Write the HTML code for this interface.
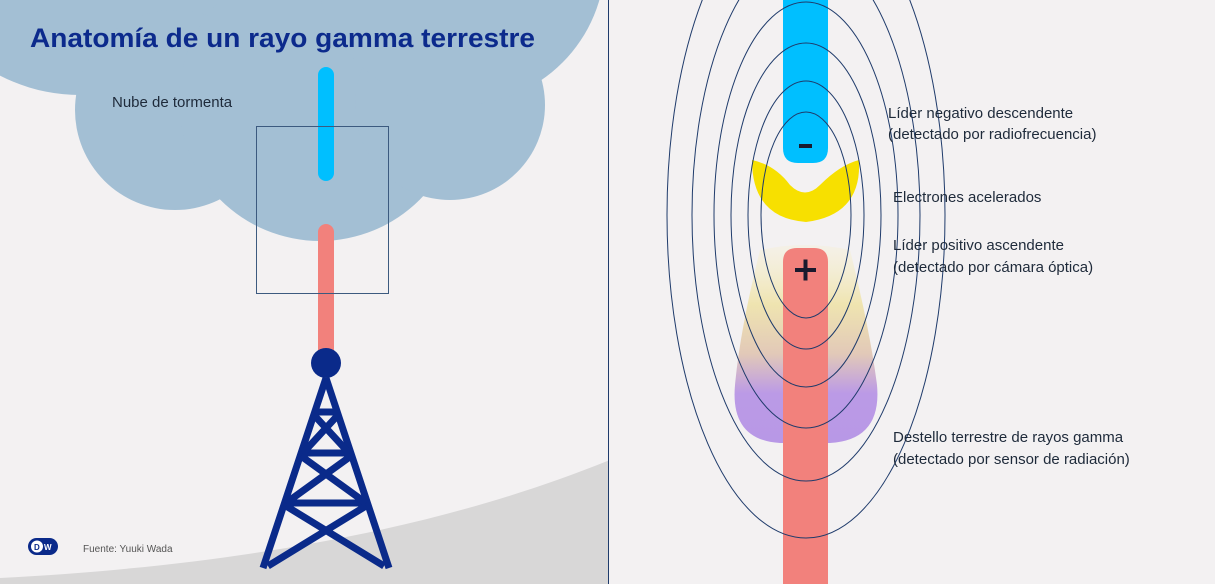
<!DOCTYPE html>
<html><head><meta charset="utf-8"><style>
html,body{margin:0;padding:0;background:#f3f1f2;}
svg{display:block;font-family:"Liberation Sans",sans-serif;}
</style></head><body>
<svg width="1215" height="584" viewBox="0 0 1215 584" xmlns="http://www.w3.org/2000/svg">
<defs>
<linearGradient id="fl" x1="0" y1="0" x2="0" y2="1">
<stop offset="0" stop-color="#f6efcf" stop-opacity="0.3"/>
<stop offset="0.3" stop-color="#efe4b0"/>
<stop offset="0.55" stop-color="#e2c9b8"/>
<stop offset="0.75" stop-color="#bb9ae6"/>
<stop offset="1" stop-color="#b898e6"/>
</linearGradient>
<clipPath id="lc"><rect x="0" y="0" width="608" height="584"/></clipPath>
</defs>
<rect width="1215" height="584" fill="#f3f1f2"/>
<g clip-path="url(#lc)">
<path d="M0,578 C250,565 450,525 610,460 L610,584 L0,584 Z" fill="#d8d7d7"/>
<g fill="#a3bfd4">
<rect x="0" y="0" width="540" height="40"/>
<circle cx="80" cy="-80" r="175"/>
<circle cx="175" cy="110" r="100"/>
<circle cx="320" cy="100" r="141"/>
<circle cx="450" cy="105" r="95"/>
<circle cx="460" cy="-40" r="145"/>
</g>
</g>
<text x="30" y="47" font-size="27" font-weight="bold" fill="#0c2a8c" textLength="505" lengthAdjust="spacingAndGlyphs">Anatomía de un rayo gamma terrestre</text>
<text x="112" y="107" font-size="15" fill="#1e2a3a">Nube de tormenta</text>
<line x1="326" y1="75" x2="326" y2="173" stroke="#00bfff" stroke-width="16" stroke-linecap="round"/>
<line x1="326" y1="232" x2="326" y2="360" stroke="#f2817c" stroke-width="16" stroke-linecap="round"/>
<rect x="256.5" y="126.5" width="132" height="167" fill="none" stroke="#3c5a7f" stroke-width="1"/>
<g stroke="#0a2a8a" stroke-width="7" fill="none" stroke-linejoin="miter">
<path d="M326,378 L263,568 M326,378 L389,568"/>
<path d="M314,412 L338,412 M301,453 L351,453 M284,503 L368,503"/>
<path d="M314,415 L349,453 M338,415 L303,453 M301,456 L366,503 M351,456 L286,503 M286,506 L384,566 M366,506 L268,566"/>
</g>
<circle cx="326" cy="363" r="15" fill="#0a2a8a"/>
<g>
<rect x="28" y="538" width="30" height="17" rx="8.5" fill="#0a2a8a"/>
<circle cx="37" cy="546.5" r="6" fill="#fff"/>
<text x="34" y="550" font-size="8" font-weight="bold" fill="#0a2a8a">D</text>
<text x="44" y="550" font-size="8" font-weight="bold" fill="#fff">W</text>
</g>
<text x="83" y="552" font-size="10" fill="#555">Fuente: Yuuki Wada</text>
<line x1="608.5" y1="0" x2="608.5" y2="584" stroke="#1f3b6b" stroke-width="1"/>
<path d="M760,250 Q805,240 850,250 Q870,330 877,385 Q882,440 830,443 L780,443 Q730,440 735,385 Q740,330 760,250 Z" fill="url(#fl)"/>
<path d="M783,0 L828,0 L828,148 Q828,163 813,163 L798,163 Q783,163 783,148 Z" fill="#00bfff"/>
<path d="M783,262 Q783,248 797,248 L814,248 Q828,248 828,262 L828,584 L783,584 Z" fill="#f2817c"/>
<path d="M752,160 Q775,165 790,185 Q805,200 820,185 Q840,165 859,160 Q862,215 806,222 Q752,218 752,160 Z" fill="#f7e000"/>
<g fill="none" stroke="#1f3b6b" stroke-width="1">
<ellipse cx="806" cy="215" rx="45" ry="103"/>
<ellipse cx="806" cy="215" rx="58" ry="134"/>
<ellipse cx="806" cy="215" rx="75" ry="172"/>
<ellipse cx="806" cy="215" rx="92" ry="213"/>
<ellipse cx="806" cy="215" rx="114" ry="266"/>
<ellipse cx="806" cy="215" rx="139" ry="323"/>
</g>
<rect x="799" y="144" width="13" height="4" fill="#1a1a2e"/>
<rect x="795" y="268" width="21" height="4" fill="#1a1a2e"/>
<rect x="803.5" y="259.5" width="4" height="21" fill="#1a1a2e"/>
<g font-size="15" fill="#1e2a3a">
<text x="888" y="118">Líder negativo descendente</text>
<text x="888" y="139">(detectado por radiofrecuencia)</text>
<text x="893" y="202">Electrones acelerados</text>
<text x="893" y="250">Líder positivo ascendente</text>
<text x="893" y="272">(detectado por cámara óptica)</text>
<text x="893" y="442">Destello terrestre de rayos gamma</text>
<text x="893" y="464">(detectado por sensor de radiación)</text>
</g>
</svg>
</body></html>
